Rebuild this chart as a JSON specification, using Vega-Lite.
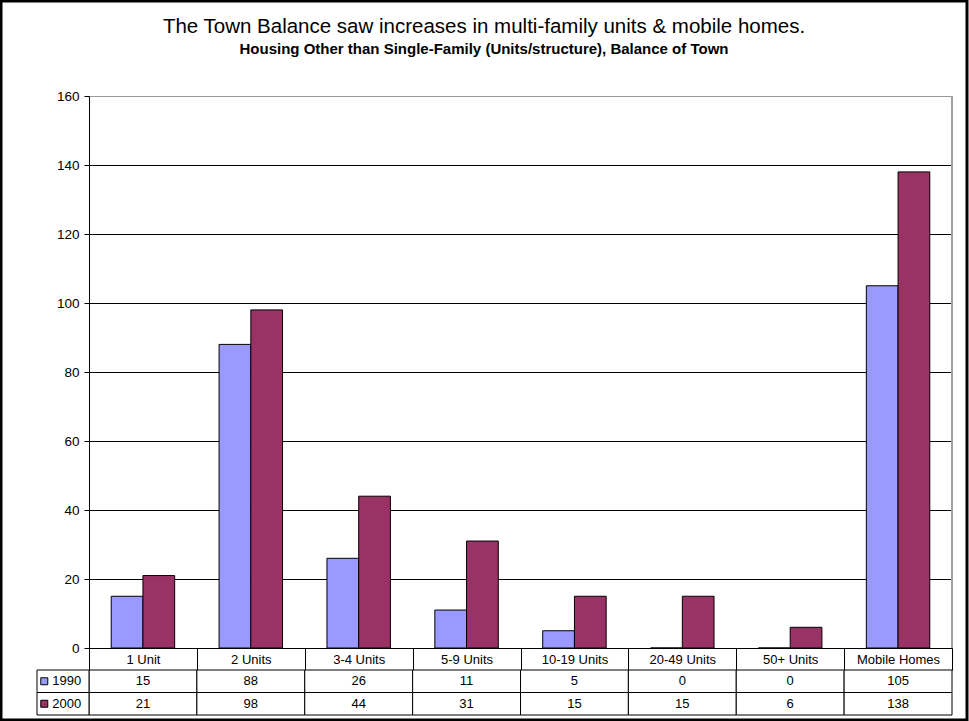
{
  "$schema": "https://vega.github.io/schema/vega-lite/v6.json",
  "width": 966,
  "height": 719,
  "autosize": {"type": "none"},
  "padding": {"left": 1, "top": 1, "right": 2, "bottom": 1},
  "background": "white",
  "config": {
    "font": "Liberation Sans",
    "view": {"stroke": "black", "strokeWidth": 3, "fill": "white"},
    "text": {"font": "Liberation Sans"}
  },
  "title": {
    "text": "The Town Balance saw increases in multi-family units & mobile homes.",
    "subtitle": "Housing Other than Single-Family (Units/structure), Balance of Town",
    "font": "Liberation Sans",
    "subtitleFont": "Liberation Sans",
    "fontSize": 20.5,
    "fontWeight": "normal",
    "color": "black",
    "subtitleFontSize": 15,
    "subtitleFontWeight": "bold",
    "subtitleColor": "black",
    "subtitlePadding": 5,
    "anchor": "middle",
    "frame": "group",
    "offset": -56
  },
  "datasets": {
    "housing": [
      {"cat": "1 Unit", "series": "1990", "value": 15},
      {"cat": "2 Units", "series": "1990", "value": 88},
      {"cat": "3-4 Units", "series": "1990", "value": 26},
      {"cat": "5-9 Units", "series": "1990", "value": 11},
      {"cat": "10-19 Units", "series": "1990", "value": 5},
      {"cat": "20-49 Units", "series": "1990", "value": 0},
      {"cat": "50+ Units", "series": "1990", "value": 0},
      {"cat": "Mobile Homes", "series": "1990", "value": 105},
      {"cat": "1 Unit", "series": "2000", "value": 21},
      {"cat": "2 Units", "series": "2000", "value": 98},
      {"cat": "3-4 Units", "series": "2000", "value": 44},
      {"cat": "5-9 Units", "series": "2000", "value": 31},
      {"cat": "10-19 Units", "series": "2000", "value": 15},
      {"cat": "20-49 Units", "series": "2000", "value": 15},
      {"cat": "50+ Units", "series": "2000", "value": 6},
      {"cat": "Mobile Homes", "series": "2000", "value": 138}
    ],
    "series": [{"series": "1990"}, {"series": "2000"}]
  },
  "layer": [
    {
      "data": {"name": "housing"},
      "layer": [
        {
          "mark": {"type": "bar", "stroke": "black", "strokeWidth": 1},
          "encoding": {
            "x": {
              "field": "cat", "type": "nominal", "sort": null,
              "scale": {"domain": ["1 Unit", "2 Units", "3-4 Units", "5-9 Units", "10-19 Units", "20-49 Units", "50+ Units", "Mobile Homes"], "range": [88, 951], "paddingInner": 0, "paddingOuter": 0},
              "axis": {
                "orient": "bottom", "offset": -72, "title": null,
                "domainColor": "black", "domainWidth": 1,
                "tickBand": "extent", "tickSize": 22, "tickColor": "black", "tickWidth": 1,
                "labelFontSize": 13, "labelColor": "black", "labelFont": "Liberation Sans",
                "labelPadding": -11, "labelBaseline": "middle", "labelAngle": 0,
                "grid": false
              }
            },
            "xOffset": {
              "field": "series", "type": "nominal",
              "scale": {"domain": ["1990", "2000"], "paddingInner": 0, "paddingOuter": 0.7}
            },
            "y": {
              "field": "value", "type": "quantitative",
              "scale": {"domain": [0, 160], "range": [647, 95], "nice": false, "zero": true},
              "axis": {
                "orient": "left", "offset": -88, "title": null,
                "values": [0, 20, 40, 60, 80, 100, 120, 140, 160],
                "grid": true,
                "gridColor": {"condition": {"test": "datum.value === 160", "value": "#999999"}, "value": "#000000"},
                "gridWidth": 1,
                "domainColor": "black", "domainWidth": 1,
                "tickColor": "black", "tickSize": 5,
                "labelFontSize": 13.5, "labelColor": "black", "labelFont": "Liberation Sans",
                "labelPadding": 5
              }
            },
            "color": {
              "field": "series", "type": "nominal",
              "scale": {"domain": ["1990", "2000"], "range": ["#9999FF", "#993366"]},
              "legend": null
            }
          }
        },
        {
          "mark": {"type": "rule", "color": "#a0a0a0", "strokeWidth": 1},
          "encoding": {
            "x": {"datum": "Mobile Homes", "type": "nominal", "bandPosition": 1},
            "y": {"datum": 0, "type": "quantitative"},
            "y2": {"datum": 160}
          }
        }
      ]
    },
    {
      "data": {"name": "housing"},
      "layer": [
        {
          "mark": {"type": "rect", "fill": "white", "stroke": "black", "strokeWidth": 1},
          "encoding": {
            "x": {
              "field": "cat", "type": "nominal", "sort": null,
              "scale": {"domain": ["1 Unit", "2 Units", "3-4 Units", "5-9 Units", "10-19 Units", "20-49 Units", "50+ Units", "Mobile Homes"], "range": [88, 951], "paddingInner": 0, "paddingOuter": 0},
              "axis": null
            },
            "y": {
              "field": "series", "type": "nominal",
              "scale": {"domain": ["1990", "2000"], "range": [669, 714], "paddingInner": 0, "paddingOuter": 0},
              "axis": null
            }
          }
        },
        {
          "mark": {"type": "text", "fontSize": 13, "color": "black", "baseline": "middle", "align": "center"},
          "encoding": {
            "x": {"field": "cat", "type": "nominal", "sort": null},
            "y": {"field": "series", "type": "nominal"},
            "text": {"field": "value", "type": "quantitative"}
          }
        }
      ]
    },
    {
      "data": {"name": "series"},
      "layer": [
        {
          "mark": {"type": "rect", "fill": "white", "stroke": "black", "strokeWidth": 1},
          "encoding": {
            "x": {
              "datum": "key", "type": "nominal",
              "scale": {"domain": ["key"], "range": [36, 88], "paddingInner": 0, "paddingOuter": 0},
              "axis": null
            },
            "y": {
              "field": "series", "type": "nominal",
              "scale": {"domain": ["1990", "2000"], "range": [669, 714], "paddingInner": 0, "paddingOuter": 0},
              "axis": null
            }
          }
        },
        {
          "mark": {"type": "point", "shape": "square", "filled": true, "size": 49, "stroke": "black", "strokeWidth": 1, "opacity": 1},
          "encoding": {
            "x": {"datum": "key", "type": "nominal", "bandPosition": 0.14},
            "y": {"field": "series", "type": "nominal"},
            "color": {"field": "series", "type": "nominal", "legend": null}
          }
        },
        {
          "mark": {"type": "text", "fontSize": 13, "color": "black", "baseline": "middle", "align": "center"},
          "encoding": {
            "x": {"datum": "key", "type": "nominal", "bandPosition": 0.57},
            "y": {"field": "series", "type": "nominal"},
            "text": {"field": "series", "type": "nominal"}
          }
        }
      ]
    }
  ],
  "resolve": {"scale": {"x": "independent", "y": "independent"}}
}
